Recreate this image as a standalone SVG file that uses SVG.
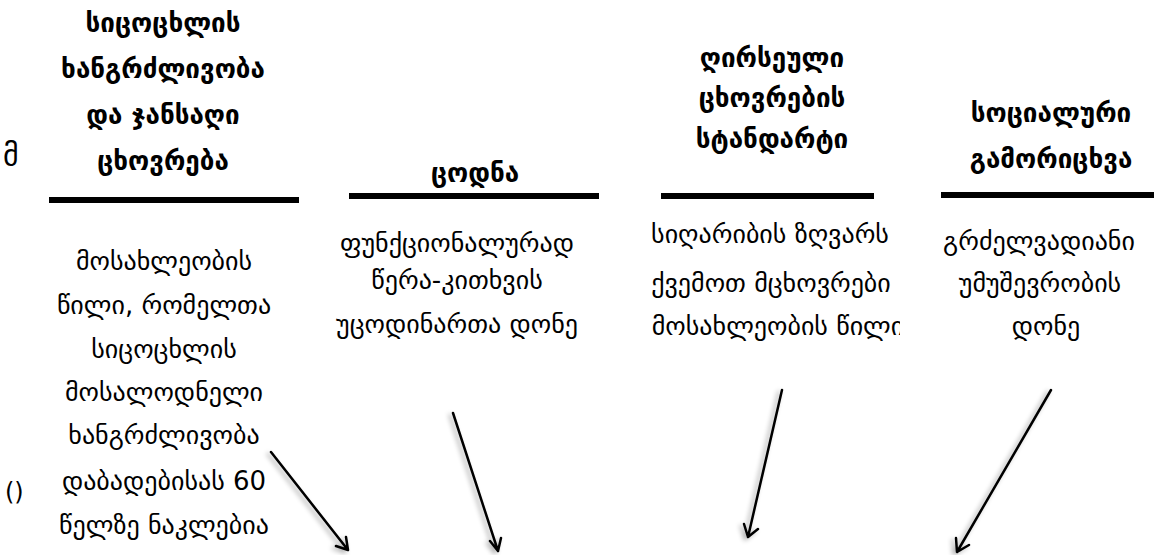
<svg xmlns="http://www.w3.org/2000/svg" width="1167" height="555" viewBox="0 0 1167 555">
<style>
.t{font-family:"DejaVu Sans",sans-serif;font-size:26px;font-weight:bold;fill:#000;text-anchor:middle}
.b{font-family:"DejaVu Sans",sans-serif;font-size:26px;fill:#000;text-anchor:middle}
.s{font-family:"DejaVu Sans",sans-serif;font-size:24px;fill:#000}
.bar{fill:#000}
.arr{stroke:#000;stroke-width:2.5;fill:none;stroke-linecap:round;stroke-linejoin:round}
</style>
<defs>
<filter id="sh" x="-50%" y="-50%" width="200%" height="200%">
<feGaussianBlur in="SourceAlpha" stdDeviation="2.5"/>
<feOffset dx="-3" dy="2" result="o"/>
<feComponentTransfer><feFuncA type="linear" slope="0.35"/></feComponentTransfer>
<feMerge><feMergeNode/><feMergeNode in="SourceGraphic"/></feMerge>
</filter>
<clipPath id="c3"><rect x="630" y="210" width="270" height="140"/></clipPath>
</defs>
<rect width="1167" height="555" fill="#fff"/>
<text class="s" x="3" y="166" style="font-size:30px">მ</text>
<text class="s" x="5" y="500">()</text>
<g id="node1">
<text class="t" x="163" y="32">სიცოცხლის</text>
<text class="t" x="163" y="78">ხანგრძლივობა</text>
<text class="t" x="163" y="124">და ჯანსაღი</text>
<text class="t" x="163" y="170">ცხოვრება</text>
<rect class="bar" x="49" y="197" width="250" height="6"/>
<text class="b" x="164" y="270">მოსახლეობის</text>
<text class="b" x="164" y="314">წილი, რომელთა</text>
<text class="b" x="164" y="358">სიცოცხლის</text>
<text class="b" x="164" y="401">მოსალოდნელი</text>
<text class="b" x="164" y="444">ხანგრძლივობა</text>
<text class="b" x="164" y="490">დაბადებისას 60</text>
<text class="b" x="164" y="534">წელზე ნაკლებია</text>
</g>
<g id="node2">
<text class="t" x="475" y="182">ცოდნა</text>
<rect class="bar" x="349" y="193" width="250" height="6"/>
<text class="b" x="457" y="252">ფუნქციონალურად</text>
<text class="b" x="457" y="289">წერა-კითხვის</text>
<text class="b" x="457" y="333">უცოდინართა დონე</text>
</g>
<g id="node3">
<text class="t" x="772" y="67">ღირსეული</text>
<text class="t" x="772" y="107">ცხოვრების</text>
<text class="t" x="772" y="148">სტანდარტი</text>
<rect class="bar" x="661" y="193" width="213" height="6"/>
<g clip-path="url(#c3)">
<text class="b" x="770" y="243">სიღარიბის ზღვარს</text>
<text class="b" x="771" y="292">ქვემოთ მცხოვრები</text>
<text class="b" x="778" y="335">მოსახლეობის წილი</text>
</g>
</g>
<g id="node4">
<text class="t" x="1051" y="122">სოციალური</text>
<text class="t" x="1051" y="168">გამორიცხვა</text>
<rect class="bar" x="941" y="192" width="213" height="6"/>
<text class="b" x="1039" y="250">გრძელვადიანი</text>
<text class="b" x="1040" y="292">უმუშევრობის</text>
<text class="b" x="1046" y="335">დონე</text>
</g>
<g id="connectors" filter="url(#sh)">
<path class="arr" d="M271 452L348 550M336 546L348 550L346 537"/>
<path class="arr" d="M453 413L498 551M490 541L498 551L501 538"/>
<path class="arr" d="M782 390L748 537M744 524L748 537L758 529"/>
<path class="arr" d="M1051 390L957 552M956 538L957 552L969 545"/>
</g>
</svg>
